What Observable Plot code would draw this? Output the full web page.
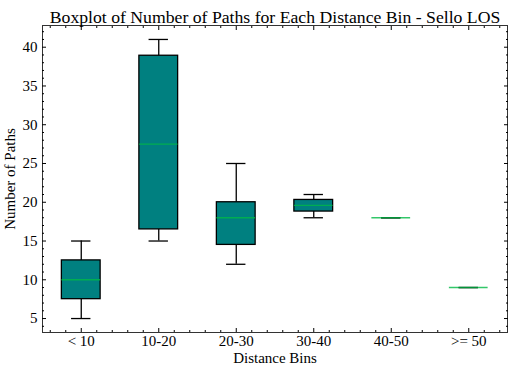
<!DOCTYPE html>
<html><head><meta charset="utf-8">
<script src="https://cdn.jsdelivr.net/npm/d3@7"></script>
<script src="https://cdn.jsdelivr.net/npm/@observablehq/plot@0.6"></script>
<style>body{margin:0;background:#fff}</style>
</head><body><div id="chart"></div>
<script>
const categories = ["< 10", "10-20", "20-30", "30-40", "40-50", ">= 50"];
const whiskerLow = [5, 15, 12, 18, 18, 9];
const q1 = [7.5, 16.5, 14.5, 18.8, 18, 9];
const median = [10, 27.5, 18, 19.6, 18, 9];
const q3 = [12.5, 38.9, 20, 20.3, 18, 9];
const whiskerHigh = [15, 41, 25, 21, 18, 9];
const yMajorTicks = [5, 10, 15, 20, 25, 30, 35, 40];

const rows = categories.map((c, i) => ({
  cat: c, pos: i + 1, lo: whiskerLow[i], q1: q1[i], med: median[i], q3: q3[i], hi: whiskerHigh[i]
}));
const boxHalf = 0.25, capHalf = 0.125;
const font = "'Liberation Serif', serif";
const xMinor = d3.range(0.6, 6.5, 0.2).map(v => +v.toFixed(1)).filter(v => Math.abs(v - Math.round(v)) > 0.01);
const yMinor = d3.range(4, 43, 1).filter(v => v % 5 !== 0);
const xMajor = categories.map((c, i) => i + 1);

const plot = Plot.plot({
  width: 511, height: 372,
  marginLeft: 42, marginRight: 4, marginTop: 25, marginBottom: 40,
  style: {fontFamily: font, fontSize: "15px", color: "#000", background: "#fff"},
  x: {domain: [0.5, 6.5]},
  y: {domain: [3.2, 42.8]},
  marks: [
    Plot.ruleX(rows, {x: "pos", y1: "q3", y2: "hi", stroke: "#000", strokeWidth: 1.3}),
    Plot.ruleX(rows, {x: "pos", y1: "lo", y2: "q1", stroke: "#000", strokeWidth: 1.3}),
    Plot.rect(rows.filter(d => d.q3 > d.q1), {x1: d => d.pos - boxHalf, x2: d => d.pos + boxHalf, y1: "q1", y2: "q3", fill: "#008080", stroke: "#000", strokeWidth: 1.3}),
    Plot.ruleY(rows, {y: "hi", x1: d => d.pos - capHalf, x2: d => d.pos + capHalf, stroke: "#000", strokeWidth: 1.3}),
    Plot.ruleY(rows, {y: "lo", x1: d => d.pos - capHalf, x2: d => d.pos + capHalf, stroke: "#000", strokeWidth: 1.3}),
    Plot.ruleY(rows, {y: "med", x1: d => d.pos - boxHalf, x2: d => d.pos + boxHalf, stroke: "#00B945", strokeWidth: 1.4, strokeOpacity: 0.8}),
    Plot.frame({stroke: "#333", strokeWidth: 1}),
    Plot.axisX({anchor: "bottom", ticks: xMajor, tickFormat: v => categories[v - 1], tickSize: -4, tickPadding: 7, label: null, fontSize: 15}),
    Plot.axisX({anchor: "bottom", ticks: xMinor, tickSize: -2, tickFormat: () => "", label: null}),
    Plot.axisX({anchor: "top", ticks: xMajor, tickSize: -4, tickFormat: () => "", label: null}),
    Plot.axisX({anchor: "top", ticks: xMinor, tickSize: -2, tickFormat: () => "", label: null}),
    Plot.axisY({anchor: "left", ticks: yMajorTicks, tickSize: -4, tickPadding: 9, label: null, fontSize: 15}),
    Plot.axisY({anchor: "left", ticks: yMinor, tickSize: -2, tickFormat: () => "", label: null}),
    Plot.axisY({anchor: "right", ticks: yMajorTicks, tickSize: -4, tickFormat: () => "", label: null}),
    Plot.axisY({anchor: "right", ticks: yMinor, tickSize: -2, tickFormat: () => "", label: null}),
    Plot.text(["Boxplot of Number of Paths for Each Distance Bin - Sello LOS"], {frameAnchor: "top", dy: -15, fontSize: 17.7, fill: "#000"}),
    Plot.text(["Distance Bins"], {frameAnchor: "bottom", dy: 30, fontSize: 15, fill: "#000"}),
    Plot.text(["Number of Paths"], {frameAnchor: "left", textAnchor: "middle", dx: -32, rotate: -90, fontSize: 15, fill: "#000"})
  ]
});
document.getElementById("chart").appendChild(plot);
</script>
</body></html>
